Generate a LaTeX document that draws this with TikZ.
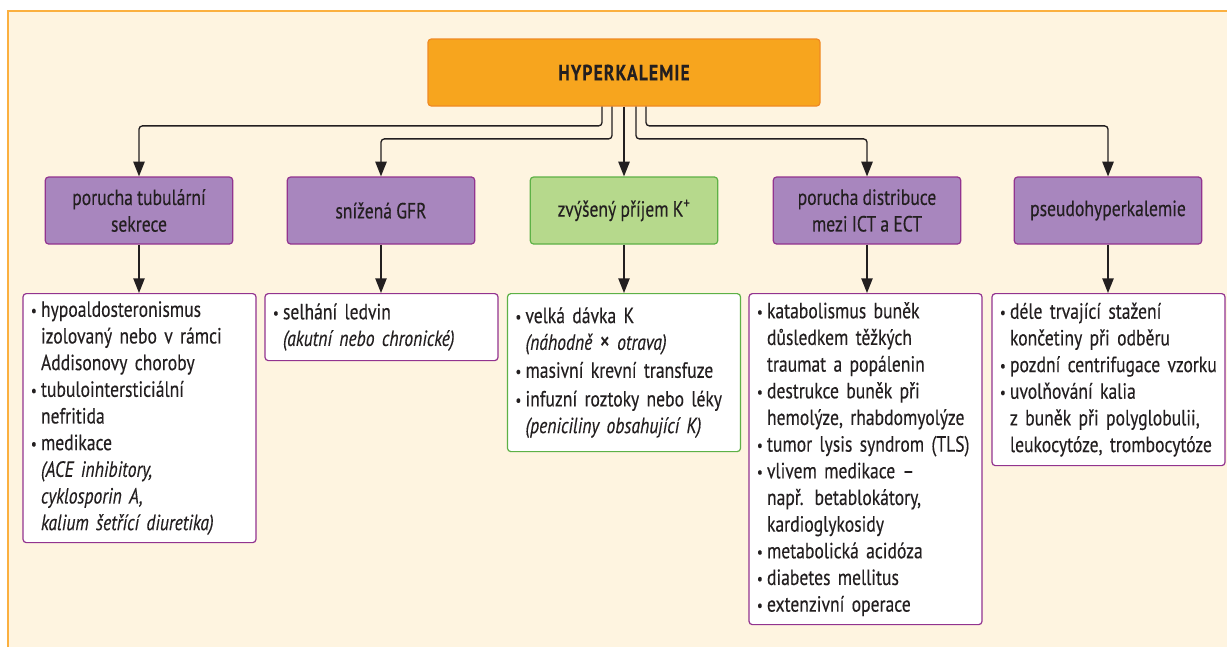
\documentclass[tikz,border=0pt]{standalone}
\usepackage{fontspec}
\setmainfont{PT Sans}[FakeStretch=0.8, FakeBold=0.25]
\usetikzlibrary{calc,arrows.meta}
\definecolor{cream}{HTML}{FEF4E0}
\definecolor{panelline}{HTML}{FBB040}
\definecolor{topfill}{HTML}{F7A51E}
\definecolor{topline}{HTML}{F08A24}
\definecolor{purfill}{HTML}{A886BE}
\definecolor{purline}{HTML}{92338F}
\definecolor{grfill}{HTML}{B6D98C}
\definecolor{grline}{HTML}{5DB146}
\definecolor{ink}{HTML}{231F20}
\newcommand\bitem{\makebox[7.5pt][l]{\raisebox{0.6pt}{\fontsize{12}{12}\selectfont•}}}
\newcommand\cont{\hspace*{7.5pt}}
\newcommand\tightsp{\spaceskip=0.19em plus 0.05em minus 0.02em\relax}
\tikzset{
  topbox/.style={draw=topline, fill=topfill, line width=0.9pt, rounded corners=2.5pt,
    minimum width=294pt, minimum height=50.25pt, inner sep=0pt,
    font={\fontsize{16.5}{18}\selectfont\bfseries\addfontfeature{LetterSpace=5}}},
  midbox/.style={draw=purline, fill=purfill, line width=0.9pt, rounded corners=2.5pt,
    minimum width=140.6pt, minimum height=50.25pt, inner sep=0pt, align=center},
  midgreen/.style={midbox, draw=grline, fill=grfill},
  botbox/.style={draw=purline, fill=white, line width=0.9pt, rounded corners=2.5pt,
    text width=162.75pt, inner xsep=6pt, inner ysep=2pt, align=left, anchor=north},
  botgreen/.style={botbox, draw=grline},
  arr/.style={draw=ink, line width=1pt, rounded corners=2.5pt,
    -{Triangle[length=11pt,width=8.5pt]}},
}
\begin{document}
\begin{tikzpicture}[x=0.75pt, y=-0.75pt, font=\fontsize{16.5}{20}\selectfont\tightsp, text=ink]
\useasboundingbox (0,0) rectangle (1227,647);
\fill[white] (0,0) rectangle (1227,647);
\fill[cream] (8,11) rectangle (1227,647);
\draw[panelline, line width=1.5pt] (8,647) -- (8,11) -- (1227,11);

\node[topbox] (top) at (624,72.5) {HYPERKALEMIE};

\node[midbox]   (m1) at (139,210.5)  {porucha tubulární\\sekrece};
\node[midbox]   (m2) at (381,210.5)  {snížená GFR};
\node[midgreen] (m3) at (624,210.5)  {zvýšený příjem K\textsuperscript{+}};
\node[midbox]   (m4) at (867,210.5)  {porucha distribuce\\mezi ICT a ECT};
\node[midbox]   (m5) at (1108,210.5) {pseudohyperkalemie};

\node[botbox, minimum height=186.75pt] (b1) at (139.5,293) {%
\bitem hypoaldosteronismus\\
\cont izolovaný nebo v rámci\\
\cont Addisonovy choroby\\
\bitem tubulointersticiální\\
\cont nefritida\\
\bitem medikace\\
\cont \textit{(ACE inhibitory,}\\
\cont \textit{cyklosporin A,}\\
\cont \textit{kalium šetřící diuretika)}};

\node[botbox, minimum height=50.25pt] (b2) at (381.5,293) {%
\bitem selhání ledvin\\
\cont \textit{(akutní nebo chronické)}};

\node[botgreen, minimum height=118.5pt] (b3) at (624,293) {%
\bitem velká dávka K\\
\cont \textit{(náhodně {\upshape\fontsize{19}{20}\selectfont×} otrava)}\\[1pt]
\bitem masivní krevní transfuze\\[1.5pt]
\bitem infuzní roztoky nebo léky\\
\cont \textit{(peniciliny obsahující K)}};

\node[botbox, minimum height=248.25pt] (b4) at (865.5,293) {%
\bitem katabolismus buněk\\
\cont důsledkem těžkých\\
\cont traumat a popálenin\\
\bitem destrukce buněk při\\
\cont hemolýze, rhabdomyolýze\\
\bitem tumor lysis syndrom (TLS)\\
\bitem vlivem medikace –\\
\cont např. betablokátory,\\
\cont kardioglykosidy\\
\bitem metabolická acidóza\\
\bitem diabetes mellitus\\
\bitem extenzivní operace};

\node[botbox, minimum height=129pt] (b5) at (1108.5,293) {%
\bitem déle trvající stažení\\
\cont končetiny při odběru\\
\bitem pozdní centrifugace vzorku\\
\bitem uvolňování kalia\\
\cont z buněk při polyglobulii,\\
\cont leukocytóze, trombocytóze};

\draw[arr] ($(top.south)+(-22,0)$) |- ($(m1.north)+(0,-50.5)$) -- (m1.north);
\draw[arr] ($(top.south)+(-12,0)$) |- ($(m2.north)+(0,-37.5)$) -- (m2.north);
\draw[arr] (top.south) -- (m3.north);
\draw[arr] ($(top.south)+(12,0)$) |- ($(m4.north)+(0,-37.5)$) -- (m4.north);
\draw[arr] ($(top.south)+(22,0)$) |- ($(m5.north)+(0,-50.5)$) -- (m5.north);

\draw[arr] (m1.south) -- (m1.south |- b1.north);
\draw[arr] (m2.south) -- (m2.south |- b2.north);
\draw[arr] (m3.south) -- (m3.south |- b3.north);
\draw[arr] (m4.south) -- (m4.south |- b4.north);
\draw[arr] (m5.south) -- (m5.south |- b5.north);
\end{tikzpicture}
\end{document}
